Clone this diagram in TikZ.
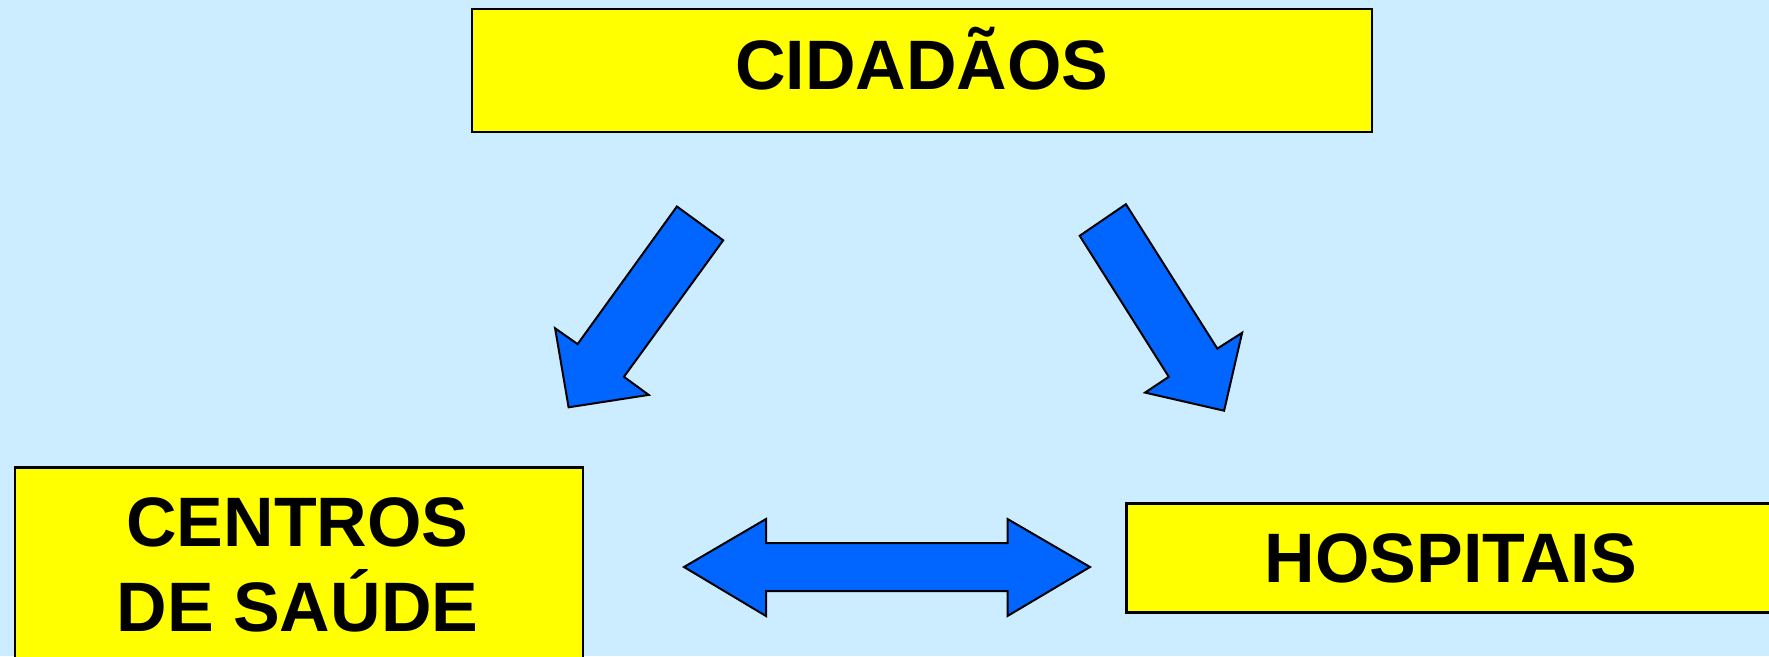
\documentclass[tikz,border=0pt]{standalone}
\usepackage{fontspec}
\setmainfont{Liberation Sans}
\definecolor{bgblue}{HTML}{CCECFF}
\definecolor{boxyellow}{HTML}{FFFF00}
\definecolor{arrowblue}{HTML}{0066FF}
\begin{document}
\begin{tikzpicture}[x=1pt,y=-1pt,
  box/.style={draw=black, line width=2.5pt, fill=boxyellow, inner sep=0pt},
  lbl/.style={font=\bfseries\fontsize{70}{85}\selectfont, inner sep=0pt, align=center},
  blockarrow/.style={draw=black, line width=2pt, fill=arrowblue, line join=miter}]
\useasboundingbox (0,0) rectangle (1769,656);
\fill[bgblue] (0,0) rectangle (1769,656);
\clip (0,0) rectangle (1769,656);
% boxes
\node[box, minimum width=900pt, minimum height=123pt] (cid) at (921.8,70.5) {};
\node[box, minimum width=568pt, minimum height=260pt, anchor=north west] (cs) at (13.5,466) {};
\node[box, minimum width=700pt, minimum height=109pt, anchor=north west] (hos) at (1125,502) {};
% labels
\node[lbl, anchor=base] (tcid) at (921.8,89) {CIDADÃOS};
\node[lbl, anchor=base] (tcs1) at (297.5,546.5) {CENTROS};
\node[lbl, anchor=base] (tcs2) at (297.5,631.5) {DE SAÚDE};
\node[lbl, anchor=base] (thos) at (1451,582) {HOSPITAIS};
% left down arrow
\draw[blockarrow] (676.9,206.5) -- (723.2,240.3) -- (623.9,376.8) -- (648.7,394.9)
  -- (568.6,407.3) -- (555.1,328.3) -- (577.6,344.1) -- cycle;
% right down arrow
\draw[blockarrow] (1079.7,235.8) -- (1125.9,204.2) -- (1217.3,348.6) -- (1242.1,332.8)
  -- (1224.1,410.7) -- (1145.1,392.6) -- (1168.8,376.8) -- cycle;
% double arrow
\draw[blockarrow] (684,567) -- (766,519) -- (766,543) -- (1007.5,543) -- (1007.5,519)
  -- (1090,567) -- (1007.5,616) -- (1007.5,591) -- (766,591) -- (766,616) -- cycle;
\end{tikzpicture}
\end{document}
